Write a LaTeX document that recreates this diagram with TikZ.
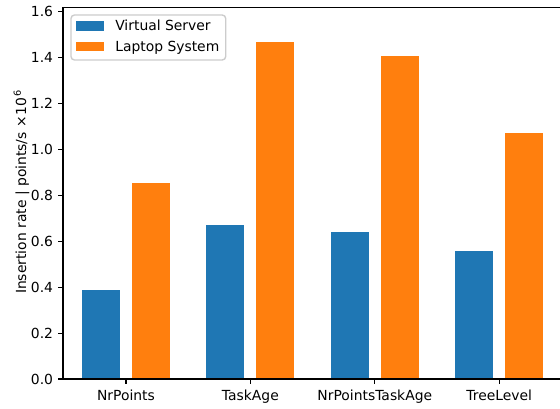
\documentclass[tikz,border=0pt]{standalone}
\usepackage{fontspec}
\setmainfont{DejaVu Sans}
\definecolor{tabblue}{HTML}{1F77B4}
\definecolor{taborange}{HTML}{FF7F0E}
\definecolor{legendedge}{HTML}{CCCCCC}
\begin{document}
\begin{tikzpicture}[x=0.72pt,y=-0.72pt,
  font=\fontsize{10}{12}\selectfont,
  spine/.style={black,line width=0.8pt},
  tickmark/.style={black,line width=0.8pt},
  ticklabel/.style={inner sep=0pt},
  serverbar/.style={fill=tabblue,draw=none},
  laptopbar/.style={fill=taborange,draw=none},
  legendframe/.style={draw=legendedge,fill=white,fill opacity=0.8,line width=1pt,rounded corners=2.5pt}]
\useasboundingbox (0,0) rectangle (560,408);
% value v sits at y = 379 - 229.6 v ; group i is centred at x = 126 + 124.4 i
\foreach \i/\vs/\vl in {0/0.388/0.852, 1/0.670/1.467, 2/0.641/1.406, 3/0.557/1.071}{
  \pgfmathsetmacro\cx{126+124.4*\i}
  \fill[serverbar] ({\cx-44},379) rectangle ({\cx-6},{379-229.6*\vs});
  \fill[laptopbar] ({\cx+6},379) rectangle ({\cx+44},{379-229.6*\vl});
}
% axes frame
\draw[spine] (63,7.3) -- (63,379) -- (560,379);
\draw[spine] (63,7.3) -- (560,7.3);
% y ticks
\foreach \v in {0.0,0.2,0.4,0.6,0.8,1.0,1.2,1.4,1.6}{
  \pgfmathsetmacro\yy{379-229.6*\v}
  \draw[tickmark] (63,\yy) -- (58.14,\yy);
  \node[ticklabel,anchor=east] (ytick\v) at (53.3,\yy) {\v};
}
% x ticks
\foreach \i/\lab in {0/NrPoints,1/TaskAge,2/NrPointsTaskAge,3/TreeLevel}{
  \pgfmathsetmacro\cx{126+124.4*\i}
  \draw[tickmark] (\cx,379) -- (\cx,383.86);
  \node[ticklabel,anchor=base] (xtick\i) at (\cx,400) {\lab};
}
% y axis label
\node[ticklabel,anchor=base,rotate=90] (ylabel) at (26,192)
  {Insertion rate | points/s ×\kern0.8pt10\textsuperscript{\kern0.3pt6}};
% legend
\draw[legendframe] (71,15) rectangle (225.7,60);
\fill[serverbar] (76,21) rectangle (104,30.7);
\fill[laptopbar] (76,41.7) rectangle (104,51.4);
\node[ticklabel,anchor=base west] (legserver) at (115,31) {Virtual Server};
\node[ticklabel,anchor=base west] (leglaptop) at (115,51.7) {Laptop System};
\end{tikzpicture}
\end{document}
